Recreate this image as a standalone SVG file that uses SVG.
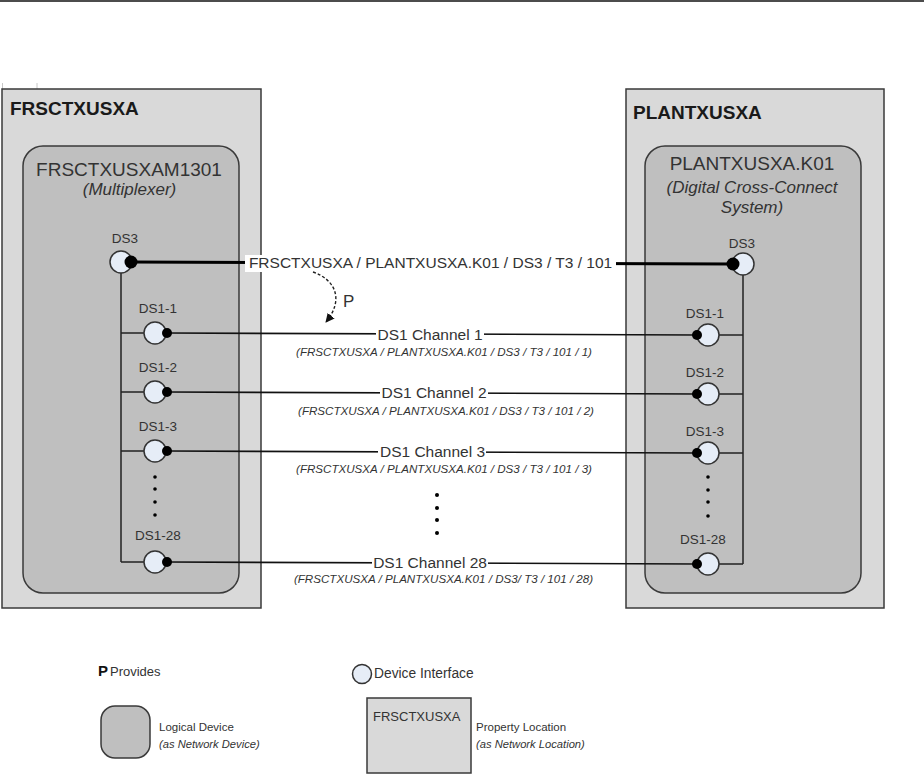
<svg xmlns="http://www.w3.org/2000/svg" width="924" height="774" viewBox="0 0 924 774">
<defs>
<style>
text{font-family:"Liberation Sans",Arial,sans-serif;fill:#333}
.loc{fill:#d9d9d9;stroke:#3a3a3a;stroke-width:1.5}
.dev{fill:#bfbfbf;stroke:#3a3a3a;stroke-width:1.5}
.ifc{fill:#e6edf7;stroke:#333;stroke-width:1.5}
.dot{fill:#000}
.vl{stroke:#222;stroke-width:1.5;fill:none}
.ln{stroke:#111;stroke-width:1.6;fill:none}
.title{font-weight:bold;font-size:19px;fill:#1a1a1a}
.devname{font-size:19px;text-anchor:middle}
.devsub{font-size:17px;font-style:italic;text-anchor:middle}
.ifl{font-size:13.5px;text-anchor:middle}
.chl{font-size:15.5px;text-anchor:middle}
.chs{font-size:11.6px;font-style:italic;text-anchor:middle}
.lg{font-size:11.5px}
.lgi{font-size:11.2px;font-style:italic}
</style>
<marker id="arr" viewBox="0 0 10 10" refX="9" refY="5" markerWidth="9" markerHeight="9" markerUnits="userSpaceOnUse" orient="auto">
<path d="M0,0 L10,5 L0,10 z" fill="#111"/>
</marker>
</defs>
<rect width="924" height="774" fill="#fff"/>
<line x1="0" y1="1" x2="924" y2="1" stroke="#111" stroke-width="1.5"/>
<path d="M2.5,83 V89 M37,83 V89" stroke="#c8c8c8" stroke-width="1"/>

<g id="loc-frsctxusxa">
<rect class="loc" x="2" y="89" width="259" height="519"/>
<text class="title" x="10" y="115">FRSCTXUSXA</text>
</g>
<g id="dev-frsctxusxam1301">
<rect class="dev" x="23" y="146" width="216" height="447" rx="20"/>
<text class="devname" x="129" y="176">FRSCTXUSXAM1301</text>
<text class="devsub" x="129.5" y="195">(Multiplexer)</text>
</g>

<g id="loc-plantxusxa">
<rect class="loc" x="626" y="89" width="258" height="519"/>
<text class="title" x="633" y="119">PLANTXUSXA</text>
</g>
<g id="dev-plantxusxa-k01">
<rect class="dev" x="645" y="146" width="216" height="447" rx="20"/>
<text class="devname" x="752" y="170">PLANTXUSXA.K01</text>
<text class="devsub" x="752" y="193">(Digital Cross-Connect</text>
<text class="devsub" x="752" y="213">System)</text>
</g>

<g id="connectors">
<path class="vl" d="M121,273 V562 M121,333 H144 M121,392 H144 M121,451 H144 M121,562 H144"/>
<path class="vl" d="M743,275 V564 M719,335 H743 M719,394 H743 M719,453 H743 M719,564 H743"/>
<line x1="131" y1="262" x2="733" y2="264" stroke="#000" stroke-width="3"/>
<rect x="245" y="255" width="371" height="17" fill="#fff"/>
<text class="chl" x="430.5" y="268">FRSCTXUSXA / PLANTXUSXA.K01 / DS3 / T3 / 101</text>

<line class="ln" x1="167" y1="333" x2="697" y2="335"/>
<rect x="376" y="326" width="108" height="16" fill="#fff"/>
<text class="chl" x="430" y="340">DS1 Channel 1</text>
<text class="chs" x="444" y="356">(FRSCTXUSXA / PLANTXUSXA.K01 / DS3 / T3 / 101 / 1)</text>

<line class="ln" x1="167" y1="392" x2="697" y2="394"/>
<rect x="380" y="385" width="108" height="16" fill="#fff"/>
<text class="chl" x="434" y="398">DS1 Channel 2</text>
<text class="chs" x="446" y="415">(FRSCTXUSXA / PLANTXUSXA.K01 / DS3 / T3 / 101 / 2)</text>

<line class="ln" x1="167" y1="451" x2="697" y2="453"/>
<rect x="378" y="444" width="108" height="16" fill="#fff"/>
<text class="chl" x="432.5" y="457">DS1 Channel 3</text>
<text class="chs" x="444" y="473">(FRSCTXUSXA / PLANTXUSXA.K01 / DS3 / T3 / 101 / 3)</text>

<line class="ln" x1="167" y1="562" x2="697" y2="564"/>
<rect x="372" y="555" width="116" height="16" fill="#fff"/>
<text class="chl" x="430" y="568">DS1 Channel 28</text>
<text class="chs" x="443.5" y="583">(FRSCTXUSXA / PLANTXUSXA.K01 / DS3/ T3 / 101 / 28)</text>

<g fill="#000">
<circle cx="437" cy="495" r="2"/><circle cx="437" cy="508" r="2"/><circle cx="437" cy="520" r="2"/><circle cx="437" cy="533" r="2"/>
</g>
<path d="M313,272 C336,280 344,300 326,322" fill="none" stroke="#222" stroke-width="1.4" stroke-dasharray="3,2" marker-end="url(#arr)"/>
<text x="343" y="307" font-size="17">P</text>
</g>

<g id="ifc-left">
<circle class="ifc" cx="121" cy="262" r="11"/><circle class="dot" cx="131" cy="262" r="6.5"/>
<text class="ifl" x="125" y="243">DS3</text>
<circle class="ifc" cx="155" cy="333" r="11"/><circle class="dot" cx="167" cy="333" r="5"/>
<text class="ifl" x="158" y="313">DS1-1</text>
<circle class="ifc" cx="155" cy="392" r="11"/><circle class="dot" cx="167" cy="392" r="5"/>
<text class="ifl" x="158" y="372">DS1-2</text>
<circle class="ifc" cx="155" cy="451" r="11"/><circle class="dot" cx="167" cy="451" r="5"/>
<text class="ifl" x="158" y="431">DS1-3</text>
<circle class="ifc" cx="155" cy="562" r="11"/><circle class="dot" cx="167" cy="562" r="5"/>
<text class="ifl" x="158" y="540">DS1-28</text>
<g fill="#000"><circle cx="155" cy="477" r="1.8"/><circle cx="155" cy="489" r="1.8"/><circle cx="155" cy="502" r="1.8"/><circle cx="155" cy="515" r="1.8"/></g>
</g>

<g id="ifc-right">
<circle class="ifc" cx="743" cy="264" r="11"/><circle class="dot" cx="733" cy="264" r="6.5"/>
<text class="ifl" x="742" y="248">DS3</text>
<circle class="ifc" cx="708" cy="335" r="11"/><circle class="dot" cx="697" cy="335" r="5"/>
<text class="ifl" x="705" y="318">DS1-1</text>
<circle class="ifc" cx="708" cy="394" r="11"/><circle class="dot" cx="697" cy="394" r="5"/>
<text class="ifl" x="705" y="377">DS1-2</text>
<circle class="ifc" cx="708" cy="453" r="11"/><circle class="dot" cx="697" cy="453" r="5"/>
<text class="ifl" x="705" y="436">DS1-3</text>
<circle class="ifc" cx="708" cy="564" r="11"/><circle class="dot" cx="697" cy="564" r="5"/>
<text class="ifl" x="703" y="544">DS1-28</text>
<g fill="#000"><circle cx="708" cy="477" r="1.8"/><circle cx="708" cy="490" r="1.8"/><circle cx="708" cy="502" r="1.8"/><circle cx="708" cy="516" r="1.8"/></g>
</g>

<g id="legend">
<text x="98" y="676" font-size="15" font-weight="bold" style="fill:#111">P</text>
<text x="110" y="676" font-size="13">Provides</text>
<rect class="dev" x="101" y="706" width="49" height="52" rx="14"/>
<text class="lg" x="159" y="731">Logical Device</text>
<text class="lgi" x="159" y="748">(as Network Device)</text>
<circle class="ifc" cx="362" cy="674" r="9.5"/>
<text x="374" y="678" font-size="13.8">Device Interface</text>
<rect class="loc" x="367" y="698" width="104" height="75"/>
<text x="373" y="721" font-size="13">FRSCTXUSXA</text>
<text class="lg" x="476" y="731">Property Location</text>
<text class="lgi" x="476" y="748">(as Network Location)</text>
</g>
</svg>
